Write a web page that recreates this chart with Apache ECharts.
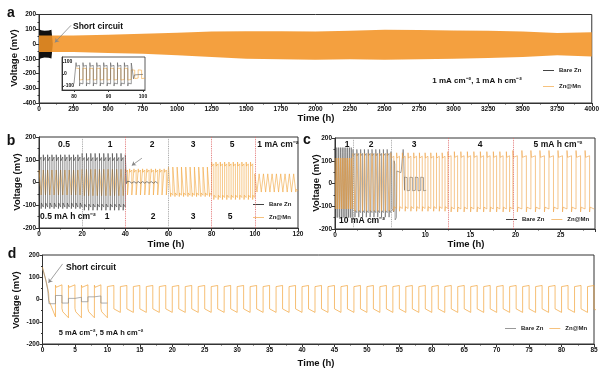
<!DOCTYPE html>
<html><head><meta charset="utf-8">
<script src="https://cdn.jsdelivr.net/npm/echarts@6/dist/echarts.min.js"></script>
<style>html,body{margin:0;padding:0;background:#fff}#c{width:602px;height:374px}</style>
</head><body><div id="c"></div>
<script>
const FONT = '"Liberation Sans", Arial, Helvetica, sans-serif';

// ---------- Panel a : envelope of the dense 1 mA cm-2 cycling ----------
const aTime      = [0, 250, 500, 750, 1000, 1250, 1500, 1750, 2000, 2250, 2500, 2750, 3000, 3250, 3500, 3750, 4000];
const aMnUpper   = [58, 58, 63, 70, 76, 85, 87, 87, 85, 90, 97, 95, 92, 90, 85, 74, 80];
const aMnLower   = [-55, -55, -61, -66, -77, -88, -100, -104, -106, -104, -106, -103, -100, -95, -88, -77, -84];
const aBareTime  = [0, 15, 40, 70, 90, 100];
const aBareUpper = [100, 94, 90, 91, 97, 99];
const aBareLower = [-104, -96, -92, -93, -99, -104];

// segment = [tStart, cycles, halfPeriod, upPeak, upStart, upEnd, loPeak, loStart, loEnd]
// ---------- Inset of a (80-100 h) ----------
const insetBareSegs = [[80.6, 8, 1, 95, 65, 72, -100, -75, -82]];
const insetBareTail = [[96.6, 92], [96.75, 65], [97.2, 60], [97.25, -40], [97.5, -8], [98.5, -5], [100, -3]];
const insetMnSegs   = [[80.6, 8, 1, 50, 40, 45, -50, -40, -45], [96.6, 2, 1, 35, 28, 32, -38, -30, -34]];

// ---------- Panel b : rate test ----------
const bMnSegs = [
  [0, 10, 1, 55, 42, 50, -55, -42, -50],
  [20, 10, 1, 58, 45, 52, -58, -45, -52],
  [40, 10, 1, 60, 45, 55, -55, -42, -50],
  [60, 10, 1, 68, 52, 60, -62, -46, -56],
  [80, 10, 1, 90, 72, 82, -75, -56, -66],
  [100, 10, 1, 38, 28, 33, -42, -30, -36]
];
const bBareSegs = [
  [0, 10, 1, 122, 95, 112, -115, -90, -108],
  [20, 10, 1, 128, 95, 110, -122, -95, -108],
  [40, 1, 0.5, 122, 100, 105, -5, -3, -2],
  [41, 7, 1, 5, 4, 4, -4, -3, -3]
];
const bBoundaries = [20, 40, 60, 80, 100];

// ---------- Panel c : 10 mA cm-2, increasing capacity ----------
const cMnSegs = [
  [0, 10, 0.1, 112, 100, 104, -112, -100, -106],
  [2, 10, 0.21, 132, 110, 116, -122, -104, -110],
  [6.2, 10, 0.315, 135, 112, 120, -122, -102, -110],
  [12.5, 10, 0.36, 140, 115, 122, -125, -104, -112],
  [19.7, 9, 0.5, 145, 115, 122, -125, -104, -112]
];
const cBareSegs  = [
  [0, 10, 0.1, 158, 135, 142, -150, -125, -130],
  [2, 10, 0.21, 150, 122, 132, -148, -118, -128]
];
const cBareShort = [[6.2, 140], [6.28, 95], [6.32, -110], [6.5, -125], [6.55, 100], [6.62, 85], [6.66, -160], [6.8, -150], [6.85, 55], [7.3, 48], [7.35, 60], [7.55, 150], [7.6, 120], [7.65, 40], [7.7, -30]];
const cBareAfter = [[7.7, 4, 0.3, 28, 24, 26, -32, -28, -30]];
const cBoundaries = [2, 6.2, 12.5, 19.7];

// ---------- Panel d : 5 mA cm-2, 5 mA h cm-2 ----------
const dMnInit = [[0, 145], [0.3, 110], [0.6, 78], [0.95, 28], [1, -5], [2, -78]];
const dMnSegs = [
  [2, 4, 1, 64, 55, 66, -40, -55, -82],
  [10, 38, 1, 58, 50, 63, -42, -48, -58]
];
const dBareInit  = [[0, 140], [0.4, 100], [0.8, 45], [1, -19]];
const dBareSteps = [-19, 18, -16, 5, 10, -10, 12, 16, -16]; // plateau per hour, 1 h .. 10 h

function wave(segs) {
  const pts = [];
  segs.forEach(([t0, n, h, uP, uS, uE, lP, lS, lE]) => {
    for (let k = 0; k < n; k++) {
      const a = t0 + 2 * k * h, b = a + h, c = b + h;
      pts.push([a, uP], [a + 0.12 * h, uS], [b, uE], [b, lP], [b + 0.12 * h, lS], [c, lE]);
    }
  });
  return pts;
}
const zip = (x, y) => x.map((t, i) => [t, y[i]]);

const ORANGE = '#F2A43A';
const chart = echarts.init(document.getElementById('c'), null, { renderer: 'canvas' });

const grids = [
  { left: 39, top: 14.5, width: 554, height: 88.5 },
  { left: 62, top: 57, width: 83, height: 33, backgroundColor: '#fff', borderWidth: 0.8 },
  { left: 39, top: 137, width: 259, height: 91 },
  { left: 335, top: 138, width: 260, height: 91 },
  { left: 42.5, top: 255, width: 551.5, height: 89 }
].map(g => Object.assign({ show: true, borderColor: '#333', borderWidth: 1, backgroundColor: 'transparent' }, g));

function axis(grid, min, max, interval, extra) {
  const base = {
    type: 'value', gridIndex: grid, min, max, interval,
    axisLine: { show: true, onZero: false, lineStyle: { color: '#333', width: 1 } },
    axisTick: { show: true, inside: false, length: 3, lineStyle: { color: '#333' } },
    minorTick: { show: true, splitNumber: 2, length: 1.5, lineStyle: { color: '#333' } },
    axisLabel: { fontSize: 6.5, fontWeight: 'bold', color: '#111', margin: 3, fontFamily: FONT, formatter: v => String(v) },
    splitLine: { show: false }
  };
  return echarts.util.merge(base, extra || {}, true);
}

const insetLabel = { fontSize: 5, fontWeight: 'bold', color: '#111', fontFamily: FONT };
const xAxes = [
  axis(0, 0, 4000, 250),
  axis(1, 76.52, 100.58, null, { axisLabel: Object.assign({ customValues: [80, 90, 100], margin: 4 }, insetLabel), axisTick: { customValues: [80, 90, 100], length: 2 }, minorTick: { show: false } }),
  axis(2, 0, 120, 20),
  axis(3, 0, 28.8, 5, { axisLabel: { showMaxLabel: false } }),
  axis(4, 0, 85, 5)
];
const yAxes = [
  axis(0, -400, 200, 100),
  axis(1, -133, 142, null, { axisLabel: Object.assign({ customValues: [-100, 0, 100], inside: true, margin: 2 }, insetLabel), axisTick: { customValues: [-100, 0, 100], inside: true, length: 2 }, minorTick: { show: false } }),
  axis(2, -200, 200, 100),
  axis(3, -200, 200, 100),
  axis(4, -200, 200, 100)
];

function line(name, data, g, color, width, extra) {
  return Object.assign({
    type: 'line', name, data, xAxisIndex: g, yAxisIndex: g, symbol: 'none', showSymbol: false,
    animation: false, silent: true, lineStyle: { color, width }, itemStyle: { color }
  }, extra || {});
}
function area(name, data, color, opacity) {
  return {
    type: 'line', name, data, xAxisIndex: 0, yAxisIndex: 0, symbol: 'none', showSymbol: false,
    animation: false, silent: true, lineStyle: { width: 0 }, itemStyle: { color },
    areaStyle: { color, opacity }
  };
}
const arrow = (from, to) => ({
  silent: true, animation: false, symbol: ['none', 'arrow'], symbolSize: 4, label: { show: false },
  lineStyle: { color: '#888', width: 0.8, type: 'solid' },
  data: [[{ coord: from }, { coord: to }]]
});
const boundaryLines = (xs, colorOf) => ({
  silent: true, animation: false, symbol: 'none', label: { show: false },
  data: xs.map(x => ({ xAxis: x, lineStyle: { color: colorOf(x), type: 'dotted', width: 0.9 } }))
});

const series = [
  area('Bare Zn', zip(aBareTime, aBareUpper), '#111', 1),
  area('Bare Zn', zip(aBareTime, aBareLower), '#111', 1),
  Object.assign(area('Zn@Mn', zip(aTime, aMnUpper), '#F39324', 0.88), { markLine: arrow([231, 126], [115, 11]) }),
  area('Zn@Mn', zip(aTime, aMnLower), '#F39324', 0.88),

  line('Zn@Mn', wave(insetMnSegs), 1, ORANGE, 0.6),
  line('Bare Zn', [[80, -80]].concat(wave(insetBareSegs), insetBareTail), 1, '#555', 0.6),

  line('Zn@Mn', wave(bMnSegs), 2, ORANGE, 0.6, { markLine: arrow([47.7, 107], [43, 75]) }),
  line('Bare Zn', wave(bBareSegs), 2, '#3a3a3a', 0.6,
       { markLine: boundaryLines(bBoundaries, x => (x === 20 || x === 60) ? '#999' : '#E06A6A') }),

  line('Bare Zn', wave(cBareSegs).concat(cBareShort, wave(cBareAfter)), 3, '#555', 0.55,
       { markLine: boundaryLines(cBoundaries, x => x < 10 ? '#999' : '#E06A6A') }),
  line('Zn@Mn', wave(cMnSegs), 3, '#EFA040', 0.6),

  line('Zn@Mn', dMnInit.concat(wave(dMnSegs)), 4, ORANGE, 0.7, { markLine: arrow([3.1, 160], [0.92, 75]) }),
  line('Bare Zn', dBareInit.concat(dBareSteps.flatMap((v, i) => [[1 + i, v], [2 + i, v]])), 4, '#8c8c8c', 0.7)
];

const legendBase = {
  padding: 0, icon: 'rect', itemWidth: 11, itemHeight: 1, selectedMode: false,
  textStyle: { fontSize: 6, fontWeight: 'bold', color: '#222', fontFamily: FONT },
  data: [{ name: 'Bare Zn', itemStyle: { color: '#444' } }, { name: 'Zn@Mn', itemStyle: { color: '#F6C27E' } }]
};
const legends = [
  { left: 543, top: 67.5, orient: 'vertical', itemGap: 10 },
  { left: 253, top: 201.5, orient: 'vertical', itemGap: 7 },
  { left: 506, top: 216.5, orient: 'horizontal', itemGap: 7 },
  { left: 505, top: 325.5, orient: 'horizontal', itemGap: 6 }
].map(l => Object.assign({}, legendBase, l));
legends[3].data = [{ name: 'Bare Zn', itemStyle: { color: '#999' } }, { name: 'Zn@Mn', itemStyle: { color: '#F6C27E' } }];

function T(text, x, y, size, extra) {
  return Object.assign({
    type: 'text', x, y, silent: true, z: 100,
    style: { text, font: 'bold ' + size + 'px ' + FONT, fill: '#111', textAlign: 'center', textVerticalAlign: 'middle' }
  }, extra || {});
}
const V = (x, y) => T('Voltage (mV)', x, y, 9.5, { rotation: Math.PI / 2 });
const graphic = [
  T('a', 11, 12.7, 14), T('b', 11, 141, 14), T('c', 307, 139.7, 14), T('d', 12, 254, 14),
  V(14, 58), V(17, 182), V(316, 183), V(16, 300),
  T('Time (h)', 316, 118, 9.5), T('Time (h)', 166, 244, 9.5), T('Time (h)', 466, 244, 9.5), T('Time (h)', 316, 363, 9.5),
  T('Short circuit', 73, 27, 8.5, { style: { text: 'Short circuit', font: 'bold 8.5px ' + FONT, fill: '#111', textAlign: 'left', textVerticalAlign: 'middle' } }),
  T('1 mA cm\u207B\u00B2, 1 mA h cm\u207B\u00B2', 477, 81, 8),
  T('0.5', 64, 145, 8.5), T('1', 110, 145, 8.5), T('2', 152, 145, 8.5), T('3', 193, 145, 8.5), T('5', 232, 145, 8.5),
  T('1 mA cm\u207B\u00B2', 278, 145, 8.5),
  T('0.5 mA h cm\u207B\u00B2', 68, 217, 8.5), T('1', 107, 217, 8.5), T('2', 153, 217, 8.5), T('3', 193, 217, 8.5), T('5', 230, 217, 8.5),
  T('1', 347, 145, 8.5), T('2', 371, 145, 8.5), T('3', 414, 145, 8.5), T('4', 480, 145, 8.5),
  T('5 mA h cm\u207B\u00B2', 558, 145, 8.5), T('10 mA cm\u207B\u00B2', 362, 221, 8.5),
  T('Short circuit', 91, 268, 8.5), T('5 mA cm\u207B\u00B2, 5 mA h cm\u207B\u00B2', 101, 333, 7.5)
];

chart.setOption({
  animation: false,
  backgroundColor: '#fff',
  textStyle: { fontFamily: FONT },
  grid: grids, xAxis: xAxes, yAxis: yAxes, series, legend: legends, graphic
});
</script></body></html>
